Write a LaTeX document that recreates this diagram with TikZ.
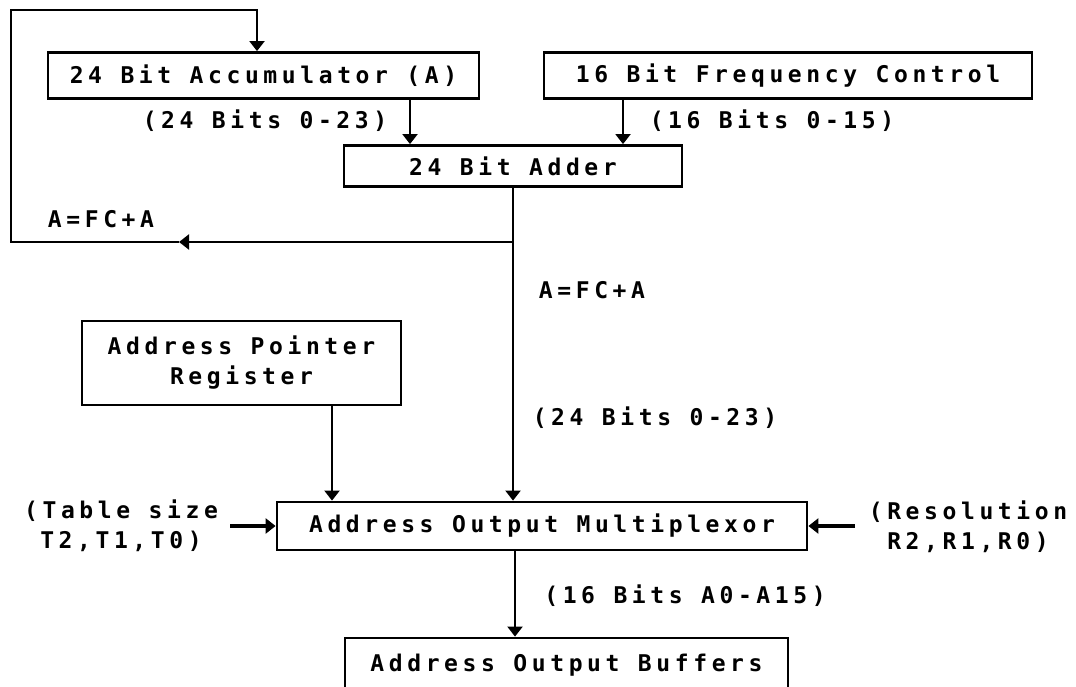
\documentclass[tikz,border=0pt]{standalone}
\usepackage{fontspec}
\newfontfamily\pixfont[LetterSpace=20]{DejaVu Sans Mono}
\usetikzlibrary{arrows.meta}

\begin{document}
\begin{tikzpicture}[x=1pt,y=-1pt,line join=miter,
  txt/.style={font=\pixfont\bfseries\fontsize{23}{30}\selectfont,inner sep=0pt,align=center},
  blk/.style={txt,draw,line width=2.8pt},
  wire/.style={line width=2pt},
  arr/.style={wire,-{Triangle[width=15pt,length=10pt]}},
  sidearr/.style={arr,line width=3.4pt}]
\path[use as bounding box] (0,0) rectangle (1076,687);
\node[blk,minimum width=431pt,minimum height=46pt] (acc) at (263.5,75.5) {24 Bit Accumulator (A)};
\node[blk,minimum width=488pt,minimum height=46pt] (freq) at (788,75.5) {16 Bit Frequency Control};
\node[blk,minimum width=338pt,minimum height=41pt] (adder) at (513,166) {24 Bit Adder};
\node[blk,minimum width=319pt,minimum height=84pt] (apr) at (241.5,363) {Address Pointer\\Register};
\node[blk,minimum width=530pt,minimum height=48pt] (mux) at (542,526) {Address Output Multiplexor};
\node[blk,minimum width=443pt,minimum height=54pt] (buf) at (566.5,665) {Address Output Buffers};
\node[txt] (accbits) at (265,121) {(24 Bits 0-23)};
\node[txt] (freqbits) at (772,121) {(16 Bits 0-15)};
\node[txt] (fblbl) at (101,219) {A=FC+A};
\node[txt] (sumlbl) at (592,290) {A=FC+A};
\node[txt] (sumbits) at (655,418) {(24 Bits 0-23)};
\node[txt] (tbl) at (121,526) {(Table size\\T2,T1,T0)};
\node[txt] (res) at (968,527) {(Resolution\\R2,R1,R0)};
\node[txt] (outbits) at (685,596) {(16 Bits A0-A15)};
\coordinate (fbsplit) at (513,242);
\coordinate (fbarr) at (179,242);
\coordinate (fbcorner) at (11,242);
\coordinate (fbtop) at (11,10);
\draw[arr] (acc.south -| 410,0) -- (adder.north -| 410,0);
\draw[arr] (freq.south -| 623,0) -- (adder.north -| 623,0);
\draw[arr] (adder.south) -- (mux.north -| adder.south);
\draw[arr] (fbsplit) -- (fbarr);
\draw[arr] (fbarr) -- (fbcorner) -- (fbtop) -| (acc.north -| 257,0);
\draw[arr] (apr.south -| 332,0) -- (mux.north -| 332,0);
\draw[sidearr] (230,526) -- (mux.west);
\draw[sidearr] (855,526) -- (mux.east);
\draw[arr] (mux.south -| 515,0) -- (buf.north -| 515,0);
\end{tikzpicture}
\end{document}
